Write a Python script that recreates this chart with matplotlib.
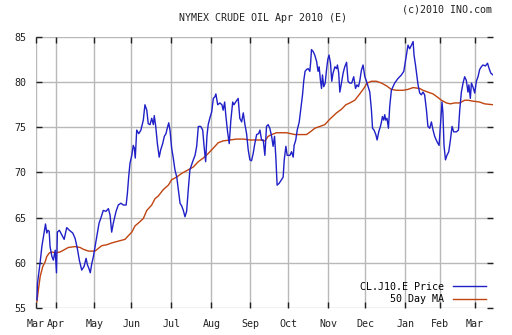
import numpy as np
import matplotlib
matplotlib.use("Agg")
import matplotlib.pyplot as plt

# ── data ──────────────────────────────────────────────────────────────────────
# x = trading sessions counted from 1 Apr 2009 (NYMEX calendar)
HOLIDAYS = ["2009-04-10", "2009-05-25", "2009-07-03", "2009-09-07", "2009-11-26",
            "2009-12-25", "2010-01-01", "2010-01-18", "2010-02-15"]
MONTH_STARTS = ["2009-04-01", "2009-05-01", "2009-06-01", "2009-07-01", "2009-08-01",
                "2009-09-01", "2009-10-01", "2009-11-01", "2009-12-01", "2010-01-01",
                "2010-02-01", "2010-03-01"]
MONTH_LABELS = ["Apr", "May", "Jun", "Jul", "Aug", "Sep", "Oct", "Nov", "Dec",
                "Jan", "Feb", "Mar"]
FIRST_DAY = "2009-03-17"
LAST_DAY = "2010-03-15"

price_x = [-10.5, -10.2, -8.7, -7.8, -6.9, -5.8, -5.1, -4.5, -3.8, -3.3, -2.3, -1.5, -0.5,
           0.2, 0.7, 1.8, 3.1, 4.4, 5.8, 7.3, 9.1, 10.4, 11.6, 12.7, 14.0, 15.3, 16.4,
           17.1, 17.9, 18.7, 19.5, 20.4, 21.5, 22.6, 23.5, 24.4, 25.8, 27.3, 28.6, 29.5,
           30.4, 31.3, 32.8, 34.0, 35.4, 36.8, 38.3, 39.0, 39.7, 40.4, 41.4, 42.2, 42.8,
           43.3, 44.1, 45.2, 46.4, 47.7, 48.6, 49.6, 50.4, 51.4, 52.3, 53.2, 53.7, 54.5,
           55.4, 56.4, 57.2, 58.3, 59.2, 60.1, 60.8, 61.6, 62.3, 63.2, 64.1, 65.0, 66.0,
           66.8, 67.8, 68.7, 69.6, 70.5, 71.4, 72.3, 73.2, 74.7, 76.0, 76.9, 77.8, 79.1,
           80.2, 80.9, 81.8, 82.5, 83.2, 84.2, 85.1, 86.0, 86.9, 87.4, 88.4, 89.6, 90.7,
           91.4, 92.2, 92.9, 93.8, 94.7, 95.6, 96.6, 97.3, 98.2, 99.6, 100.5, 101.5,
           102.4, 103.3, 104.2, 105.1, 106.0, 106.9, 107.8, 108.7, 109.7, 110.8, 111.5,
           112.4, 113.3, 114.2, 115.1, 116.0, 116.9, 117.9, 118.7, 119.5, 120.2, 120.9,
           122.0, 123.3, 124.2, 124.8, 125.7, 126.4, 127.9, 128.8, 129.7, 130.2, 131.1,
           131.9, 133.0, 133.9, 134.8, 135.5, 136.2, 137.0, 137.9, 138.8, 139.3, 139.7,
           140.6, 141.5, 142.5, 143.3, 143.9, 144.6, 145.2, 145.7, 146.4, 147.2, 147.9,
           148.6, 149.3, 150.1, 150.8, 151.5, 152.5, 153.4, 153.9, 154.6, 155.2, 156.1,
           157.0, 157.9, 158.9, 159.7, 160.7, 161.7, 162.8, 163.8, 164.6, 165.4, 166.1,
           167.0, 167.9, 168.9, 169.8, 170.7, 171.6, 172.5, 173.1, 173.9, 174.9, 175.6,
           176.5, 177.4, 178.0, 178.5, 179.2, 179.8, 180.3, 181.0, 181.8, 182.5, 183.4,
           185.2, 187.0, 188.9, 190.2, 190.9, 191.6, 192.5, 193.4, 194.4, 195.3, 195.8,
           196.6, 197.4, 198.0, 198.9, 199.8, 200.7, 201.6, 202.6, 203.4, 204.4, 205.3,
           206.2, 207.1, 208.4, 209.5, 210.2, 211.1, 211.6, 212.2, 213.0, 213.8, 214.8,
           215.7, 216.6, 217.5, 219.0, 220.1, 220.8, 221.7, 222.6, 223.5, 224.4, 225.3,
           225.8, 226.6, 227.2, 228.0, 229.0, 229.9, 230.8, 231.7, 232.6, 233.5, 234.9,
           236.0, 236.9, 237.8, 239.0]
price = [55.9, 57.7, 60.1, 61.8, 62.9, 64.3, 63.3, 63.6, 63.5, 61.8, 60.7, 60.3, 61.4,
         58.9, 63.4, 63.6, 63.1, 62.6, 63.9, 63.6, 63.3, 62.7, 61.6, 60.3, 59.2, 59.6, 60.5,
         59.8, 59.4, 58.9, 59.9, 60.7, 62.0, 63.3, 64.4, 64.9, 65.8, 65.7, 66.0, 65.3,
         63.4, 64.4, 65.7, 66.4, 66.6, 66.4, 66.4, 67.7, 69.5, 71.0, 71.9, 73.0, 72.7,
         71.6, 74.7, 74.3, 74.7, 75.8, 77.5, 76.9, 75.4, 75.3, 76.0, 75.3, 76.3, 75.1,
         73.2, 71.7, 72.5, 73.2, 74.0, 74.3, 74.9, 75.5, 74.7, 72.7, 71.6, 70.3, 69.5,
         68.2, 66.6, 66.3, 65.8, 65.1, 65.7, 68.1, 70.3, 71.2, 71.9, 72.9, 75.1, 75.1,
         74.7, 73.0, 71.2, 74.0, 75.3, 76.1, 76.7, 78.2, 78.4, 78.7, 77.5, 77.7, 77.5,
         76.9, 77.8, 76.2, 74.5, 73.2, 75.8, 77.8, 77.5, 77.8, 78.2, 76.0, 75.6,
         76.6, 75.3, 74.3, 72.5, 71.4, 71.3, 72.1, 73.2, 74.2, 74.3, 74.7,
         73.6, 73.6, 71.9, 75.1, 75.3, 74.9, 74.0, 72.9, 74.0, 71.7, 68.6,
         68.8, 69.2, 69.5, 71.4, 72.9, 71.9, 71.9, 72.3, 71.7, 73.0, 73.6,
         74.7, 75.6, 77.1, 78.6, 80.2, 81.2, 81.4, 81.5, 81.2, 82.3, 83.6,
         83.4, 83.0, 82.3, 81.2, 81.7, 80.2, 79.3, 80.8, 79.5, 79.9, 81.3,
         82.5, 83.0, 82.1, 80.1, 81.0, 81.7, 81.5, 81.9, 81.0, 78.9, 79.9,
         81.0, 81.7, 82.2, 80.1, 79.9, 79.9, 80.6, 79.3, 79.7, 79.5, 80.1,
         81.3, 81.9, 80.6, 80.1, 79.5, 78.9, 76.9, 74.9, 74.7, 74.2, 73.6,
         74.5, 75.1, 75.6, 76.2, 75.8, 76.4, 75.8, 76.0, 74.9, 77.3, 79.1,
         79.9, 80.4, 80.8, 81.2, 82.1, 83.0, 84.1, 83.7, 84.1, 84.5, 83.0,
         81.9, 80.6, 79.7, 78.8, 78.6, 78.9, 78.6, 76.9, 75.1, 74.9, 75.6,
         74.7, 74.0, 73.4, 73.0, 75.1, 77.8, 76.6, 73.0, 71.4, 71.9, 72.3,
         73.6, 75.1, 74.5, 74.5, 74.7, 76.9, 78.9, 79.9, 80.6, 80.2, 78.9,
         79.7, 78.2, 79.9, 79.5, 78.8, 80.1, 80.6, 81.4, 81.7, 81.9, 81.8,
         82.1, 81.5, 81.0, 80.8]

ma_x = [-10.5, -9.7, -8.7, -7.3, -6.0, -5.1, -3.7, -2.3, -0.5, 2.2, 4.0, 6.7, 10.4, 13.1,
        14.9, 17.7, 21.3, 23.1, 25.0, 27.7, 30.4, 34.0, 37.7, 39.5, 41.4, 43.2, 45.0,
        47.7, 49.6, 52.3, 54.1, 55.9, 58.6, 61.4, 63.2, 66.0, 68.7, 72.3, 75.0, 77.8,
        80.5, 83.2, 86.0, 88.7, 91.4, 95.1, 98.7, 102.4, 106.0, 111.5, 114.2, 116.0,
        117.9, 120.6, 126.1, 130.6, 137.0, 139.7, 141.5, 144.3, 147.0, 149.7, 153.4,
        156.1, 158.5, 160.7, 163.4, 166.1, 168.3, 170.1, 172.5, 175.2, 178.0, 180.7,
        183.4, 186.2, 189.8, 192.5, 195.3, 198.9, 200.7, 203.4, 206.2, 208.9, 210.8,
        213.5, 215.7, 218.0, 220.8, 223.5, 225.3, 228.0, 231.7, 234.4, 239.0]
ma50 = [55.7, 57.0, 58.5, 59.6, 60.1, 60.7, 61.1, 61.2, 61.1, 61.2, 61.4, 61.7, 61.8, 61.7,
        61.5, 61.3, 61.3, 61.6, 61.9, 62.0, 62.2, 62.4, 62.6, 63.0, 63.4, 64.1, 64.4,
        64.9, 65.8, 66.4, 67.1, 67.4, 68.1, 68.6, 69.2, 69.5, 69.9, 70.3, 70.6, 71.2,
        71.6, 72.1, 72.7, 73.3, 73.5, 73.6, 73.7, 73.7, 73.6, 73.6, 73.5, 74.0,
        74.2, 74.4, 74.4, 74.2, 74.2, 74.6, 74.9, 75.1, 75.3, 75.9, 76.6,
        77.0, 77.5, 77.7, 78.0, 78.7, 79.3, 79.9, 80.1, 80.1, 79.9, 79.6,
        79.2, 79.1, 79.1, 79.2, 79.4, 79.3, 79.1, 78.9, 78.7, 78.3, 78.0,
        77.7, 77.6, 77.7, 77.7, 78.0, 78.0, 77.9, 77.8, 77.6, 77.5]

# ── session positions of month gridlines ──────────────────────────────────────
month_pos = [int(np.busday_count("2009-04-01", m, holidays=HOLIDAYS)) for m in MONTH_STARTS]
x_start = -int(np.busday_count(FIRST_DAY, "2009-04-01", holidays=HOLIDAYS))
x_end = int(np.busday_count("2009-04-01", LAST_DAY, holidays=HOLIDAYS))

BLUE = "#2020c8"
ORANGE = "#c04410"
GRID = "#b8b8b8"
FONT = "DejaVu Sans Mono"
FS = 7.2

fig = plt.figure(figsize=(5.12, 3.35), dpi=100)
ax = fig.add_axes([36 / 512, 27 / 335, 457 / 512, 271 / 335])

ma_line, = ax.plot(ma_x, ma50, color=ORANGE, lw=1.0, label="50 Day MA", zorder=3)
price_line, = ax.plot(price_x, price, color=BLUE, lw=1.0, label="CL.J10.E Price", zorder=4)

ax.set_xlim(x_start, x_end)
ax.set_ylim(55, 85)

for s in ax.spines.values():
    s.set_visible(False)

# grid
for yv in range(55, 90, 5):
    ax.axhline(yv, color=GRID, lw=1.0, zorder=1)
for xv in [x_start] + month_pos:
    ax.axvline(xv, color=GRID, lw=1.0, zorder=1)

ax.set_yticks(range(55, 90, 5))
ax.set_xticks([x_start] + month_pos)
ax.set_xticklabels(["Mar"] + MONTH_LABELS)
ax.tick_params(axis="both", direction="in", length=4, width=1, color="#222222",
               top=True, right=True, labelsize=FS, pad=7)
ax.tick_params(axis="x", pad=8)
for lab in ax.get_xticklabels() + ax.get_yticklabels():
    lab.set_family(FONT)
    lab.set_color("#222222")

leg = ax.legend(handles=[price_line, ma_line], loc="lower right", frameon=False,
                markerfirst=False, prop={"family": FONT, "size": FS},
                handlelength=3.3, handletextpad=0.9, labelspacing=0.25,
                borderaxespad=0.3, bbox_to_anchor=(1.0, -0.012))

fig.text(263 / 512, 1 - 18 / 335, "NYMEX CRUDE OIL Apr 2010 (E)", ha="center", va="center",
         family=FONT, fontsize=FS, color="#222222")
fig.text(492 / 512, 1 - 9 / 335, "(c)2010 INO.com", ha="right", va="center",
         family=FONT, fontsize=FS, color="#222222")

fig.savefig("out.png", dpi=100)
